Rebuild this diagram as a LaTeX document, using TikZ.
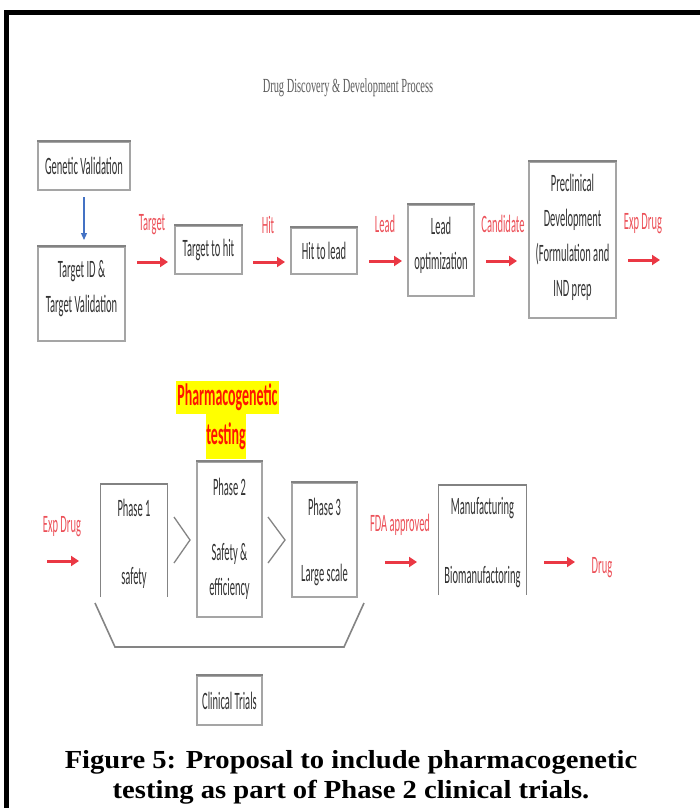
\documentclass[tikz,border=0pt]{standalone}
\usepackage{fontspec}
\usetikzlibrary{arrows.meta}
\newfontfamily\bxfont[FakeStretch=0.42]{Carlito}
\newfontfamily\pgfontx[FakeStretch=0.45]{Carlito Bold}
\newfontfamily\ttlfont[FakeStretch=0.52]{Liberation Serif}
\newfontfamily\capfont[FakeStretch=1.1]{Liberation Serif Bold}
\definecolor{redarr}{RGB}{234,56,68}
\definecolor{redtxt}{RGB}{236,80,88}
\definecolor{bluearr}{RGB}{68,114,196}
\definecolor{boxline}{RGB}{165,165,165}
\definecolor{boxtop}{RGB}{130,130,130}
\definecolor{txtgray}{RGB}{50,50,50}
\definecolor{hl}{RGB}{255,255,0}
\definecolor{pgred}{RGB}{255,20,0}
\tikzset{
  bx/.style={draw=boxline, line width=1.2pt, inner sep=0pt, font=\bxfont\fontsize{25}{35}\selectfont, text=txtgray, align=center},
  open/.style={inner sep=0pt},
  txt/.style={inner sep=0pt, font=\bxfont\fontsize{25}{35}\selectfont, text=txtgray, align=center},
  rlab/.style={inner sep=0pt, font=\bxfont\fontsize{25}{35}\selectfont, text=redtxt},
  rarr/.style={draw=redarr, line width=3pt, -{Triangle[length=8pt,width=10pt]}},
  gline/.style={draw=boxline!80!black, line width=1.3pt},
  topedge/.style={draw=boxtop, line width=2pt},
  hlbox/.style={fill=hl, inner sep=0pt, font=\pgfontx\fontsize{31}{40}\selectfont, text=pgred},
}
\begin{document}
\begin{tikzpicture}[x=1pt,y=-1pt]
\useasboundingbox (0,0) rectangle (700,808);
% frame
\draw[line width=5pt] (6.5,820) -- (6.5,13) -- (710,13);
% title
\node[inner sep=0pt, font=\ttlfont\fontsize{20}{24}\selectfont, text=txtgray!80] (title) at (348,88) {Drug Discovery \& Development Process};
% top row boxes
\node[bx, minimum width=92pt, minimum height=48pt] (gv) at (84,166) {Genetic Validation};
\node[bx, minimum width=87pt, minimum height=94pt] (tid) at (81.5,294) {};
\node[txt] (tidt) at (81.5,288.5) {Target ID \&\\Target Validation};
\node[bx, minimum width=67pt, minimum height=48pt] (th) at (208.5,250) {Target to hit};
\node[bx, minimum width=66pt, minimum height=46pt] (hl) at (324,251) {Hit to lead};
\node[bx, minimum width=66pt, minimum height=91pt] (lo) at (441,250.5) {};
\node[txt] (lot) at (441,245.5) {Lead\\optimization};
\node[bx, minimum width=87pt, minimum height=156pt] (pre) at (572.5,240) {};
\node[txt] (pret) at (572.5,237.5) {Preclinical\\Development\\(Formulation and\\IND prep};
\foreach \n in {gv,tid,th,hl,lo,pre} \draw[topedge] (\n.north west) -- (\n.north east);
% blue arrow
\draw[draw=bluearr, line width=1.2pt, -{Triangle[length=7pt,width=6pt]}, shorten <=7pt, shorten >=7pt] (84,190) -- (84,247);
% red labels top
\node[rlab] (l1) at (152,225) {Target};
\node[rlab] (l2) at (268,225) {Hit};
\node[rlab] (l3) at (385,224) {Lead};
\node[rlab] (l4) at (503,224) {Candidate};
\node[rlab] (l5) at (643,224) {Exp Drug};
\coordinate (a1s) at (137,262); \coordinate (a1e) at (168,262);
\coordinate (a2s) at (253,262); \coordinate (a2e) at (285,262);
\coordinate (a3s) at (369,261); \coordinate (a3e) at (402,261);
\coordinate (a4s) at (486,261); \coordinate (a4e) at (517,261);
\coordinate (a5s) at (628,260); \coordinate (a5e) at (660,260);
\foreach \i in {1,...,5} \draw[rarr] (a\i s) -- (a\i e);
% pharmacogenetic testing
\node[hlbox, minimum width=103pt, minimum height=33pt] (pg1) at (227.5,397) {Pharmacogenetic};
\node[hlbox, minimum width=40pt, minimum height=46pt] (pg2) at (226,436) {testing};
% bottom row
\node[open, minimum width=66pt, minimum height=113pt] (p1) at (134,540.5) {};
\draw[gline] (p1.south west) -- (p1.north west) -- (p1.north east) -- (p1.south east);
\node[bx, minimum width=65pt, minimum height=155pt] (p2) at (229.5,539.5) {};
\node[bx, minimum width=65pt, minimum height=114pt] (p3) at (324.5,540) {};
\node[open, minimum width=87pt, minimum height=110pt] (mf) at (482.5,540) {};
\draw[gline] (mf.south west) -- (mf.north west) -- (mf.north east) -- (mf.south east);
\foreach \n in {p1,p2,p3,mf} \draw[topedge] (\n.north west) -- (\n.north east);
\node[txt] (p1a) at (134,508) {Phase 1};
\node[txt] (p1b) at (134,578) {safety};
\node[txt] (p2a) at (229.5,487) {Phase 2};
\node[txt] (p2b) at (229.5,571.5) {Safety \&\\efficiency};
\node[txt] (p3a) at (324.5,507) {Phase 3};
\node[txt] (p3b) at (324.5,575) {Large scale};
\node[txt] (mfa) at (482.5,508) {Manufacturing};
\node[txt] (mfb) at (482.5,577) {Biomanufactoring};
% chevrons
\draw[gline] (174,517) -- (190,540) -- (174,563);
\draw[gline] (268,517) -- (285,540) -- (268,563);
% red labels bottom
\node[rlab] (l6) at (62,527) {Exp Drug};
\node[rlab] (l7) at (400,525) {FDA approved};
\node[rlab] (l8) at (602,568) {Drug};
\coordinate (b1s) at (47,561); \coordinate (b1e) at (79,561);
\coordinate (b2s) at (385,562); \coordinate (b2e) at (417,562);
\coordinate (b3s) at (544,562); \coordinate (b3e) at (575,562);
\foreach \i in {1,2,3} \draw[rarr] (b\i s) -- (b\i e);
% bracket
\draw[gline, line width=1.6pt] (95,603) -- (115,647) -- (344,647) -- (364,603);
\node[bx, minimum width=65pt, minimum height=49pt] (ct) at (229.5,700.5) {Clinical Trials};
\draw[topedge] (ct.north west) -- (ct.north east);
% caption
\node[inner sep=0pt, font=\capfont\fontsize{26}{30}\selectfont, align=center] (cap) at (351,777) {Figure 5: Proposal to include pharmacogenetic\\testing as part of Phase 2 clinical trials.};
\end{tikzpicture}
\end{document}
